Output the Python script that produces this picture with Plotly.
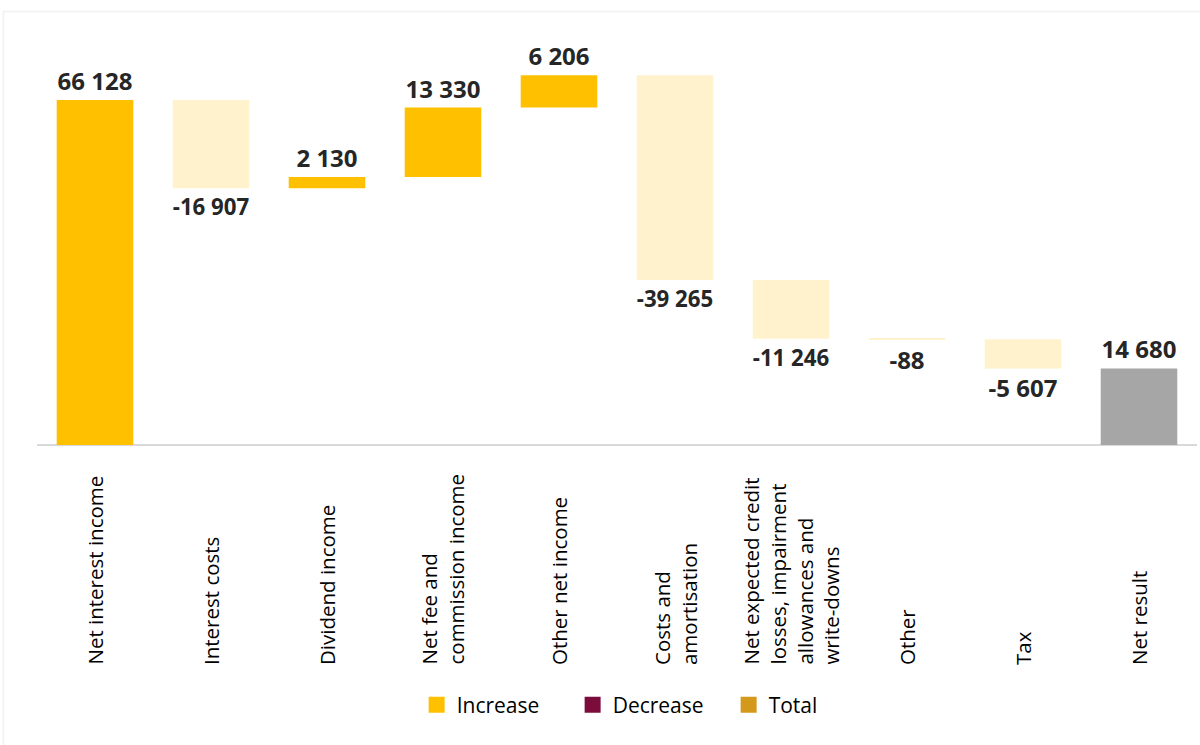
import plotly.graph_objects as go

# Income statement bridge, figures in thousands
categories = [
    "Net interest income",
    "Interest costs",
    "Dividend income",
    "Net fee and<br>commission income",
    "Other net income",
    "Costs and<br>amortisation",
    "Net expected credit<br>losses, impairment<br>allowances and<br>write-downs",
    "Other",
    "Tax",
    "Net result",
]
values = [66128, -16907, 2130, 13330, 6206, -39265, -11246, -88, -5607, 14680]
measures = ["relative"] * 9 + ["absolute"]

legend_names = ["Increase", "Decrease", "Total"]
legend_colors = ["#FFC000", "#7B0C3C", "#D4981A"]

INCREASE = "#FFC000"
DECREASE = "#FFF2CC"
TOTAL = "#A6A6A6"


def fmt(v):
    return f"{v:,}".replace(",", " ")


labels = [fmt(v) for v in values]

fig = go.Figure()
fig.add_trace(go.Waterfall(
    x=list(range(len(categories))),
    y=values,
    measure=measures,
    text=labels,
    textposition="outside",
    textfont=dict(family="Open Sans", size=24, color="#262626", weight="bold"),
    increasing=dict(marker=dict(color=INCREASE)),
    decreasing=dict(marker=dict(color=DECREASE)),
    totals=dict(marker=dict(color=TOTAL)),
    connector=dict(visible=False),
    cliponaxis=False,
    showlegend=False,
    hoverinfo="skip",
))

# legend swatches
for name, color in zip(legend_names, legend_colors):
    fig.add_trace(go.Scatter(
        x=[None], y=[None], mode="markers", name=name,
        marker=dict(symbol="square", size=17, color=color),
    ))

# category labels, rotated and aligned at their start
for i, cat in enumerate(categories):
    fig.add_annotation(
        x=i, xref="x", y=-0.5224, yref="paper",
        text=cat, textangle=-90, showarrow=False,
        xanchor="center", yanchor="bottom", align="left",
        font=dict(family="Open Sans", size=20.5, color="#000000"),
    )

# faint chart frame
fig.add_shape(type="rect", xref="paper", yref="paper",
              x0=-0.029, x1=1.01, y0=-0.75, y1=1.02,
              line=dict(color="#F4F4F4", width=2), layer="below")

fig.update_layout(
    width=1200, height=745,
    margin=dict(l=37, r=3, t=20, b=300),
    paper_bgcolor="white", plot_bgcolor="white",
    waterfallgap=0.34,
    xaxis=dict(range=[-0.5, 9.5], showticklabels=False, showgrid=False,
               zeroline=False, showline=False, ticks=""),
    yaxis=dict(range=[0, 81460], showticklabels=False, showgrid=False,
               zeroline=True, zerolinecolor="#D9D9D9", zerolinewidth=2,
               showline=False, ticks=""),
    legend=dict(orientation="h", x=0.529, xanchor="center", y=-0.612, yanchor="middle",
                font=dict(family="Open Sans", size=21, color="#000000"),
                itemwidth=30, tracegroupgap=0,
                entrywidth=111, entrywidthmode="pixels"),
    font=dict(family="Open Sans"),
)

fig.write_html("out.html")
